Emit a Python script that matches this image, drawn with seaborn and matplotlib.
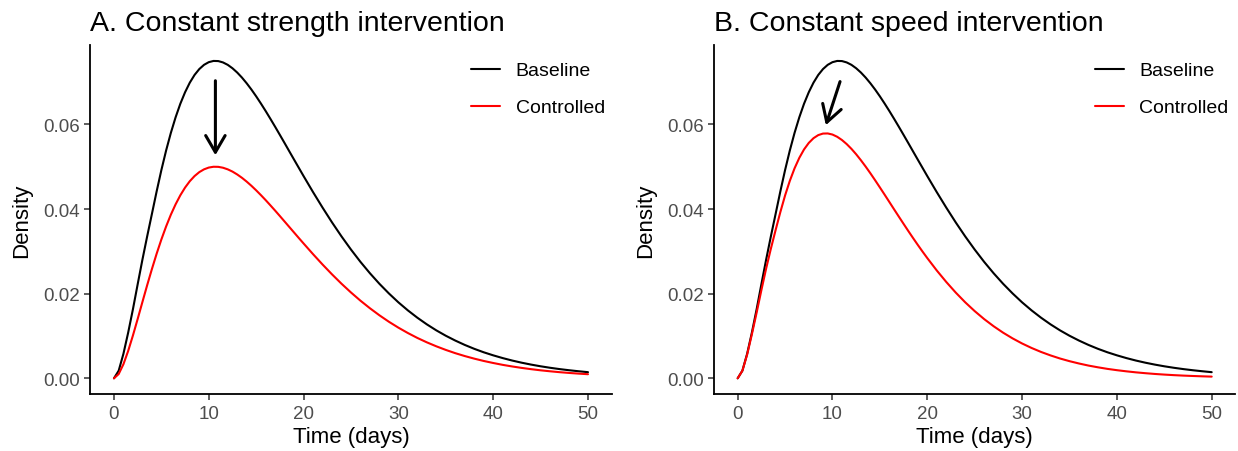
import matplotlib
matplotlib.use("Agg")
import matplotlib.pyplot as plt
import pandas as pd
import seaborn as sns

# values (half-day steps to day 20, then daily)
time_days = [
    0, 0.5, 1, 1.5, 2, 2.5, 3, 3.5, 4, 4.5, 5, 5.5, 6, 6.5, 7, 7.5, 8, 8.5,
    9, 9.5, 10, 10.5, 11, 11.5, 12, 12.5, 13, 13.5, 14, 14.5, 15, 15.5, 16,
    16.5, 17, 17.5, 18, 18.5, 19, 19.5, 20,
    21, 22, 23, 24, 25, 26, 27, 28, 29, 30, 31, 32, 33, 34, 35, 36, 37, 38,
    39, 40, 41, 42, 43, 44, 45, 46, 47, 48, 49, 50,
]

baseline = [
    0.0, 0.0018, 0.0058, 0.0108, 0.0163, 0.0222, 0.0280, 0.0335, 0.0388,
    0.04413, 0.04918, 0.05381, 0.05797, 0.06165, 0.06486, 0.06758, 0.06985,
    0.07167, 0.07306, 0.07406, 0.07469, 0.07498, 0.07495, 0.07463, 0.07406,
    0.07325, 0.07224, 0.07105, 0.06970, 0.06822, 0.06662, 0.06492, 0.06315,
    0.06131, 0.05943, 0.05751, 0.05557, 0.05361, 0.05166, 0.04972, 0.04778,
    0.04399, 0.04034, 0.03684, 0.03353, 0.03042, 0.02751, 0.02482, 0.02233,
    0.02005, 0.01795, 0.01605, 0.01432, 0.01275, 0.01133, 0.01006, 0.00892,
    0.00789, 0.00697, 0.00615, 0.00543, 0.00478, 0.00420, 0.00369, 0.00324,
    0.00284, 0.00249, 0.00218, 0.00191, 0.00167, 0.00145,
]

controlled_strength = [
    0.0, 0.00101, 0.00333, 0.00647, 0.01011, 0.01401, 0.01801, 0.02197,
    0.02579, 0.02942, 0.03279, 0.03587, 0.03865, 0.04110, 0.04324, 0.04506,
    0.04657, 0.04778, 0.04871, 0.04937, 0.04979, 0.04998, 0.04996, 0.04975,
    0.04937, 0.04884, 0.04816, 0.04737, 0.04647, 0.04548, 0.04441, 0.04328,
    0.04210, 0.04087, 0.03962, 0.03834, 0.03704, 0.03574, 0.03444, 0.03314,
    0.03186,
    0.02933, 0.02689, 0.02456, 0.02235, 0.02028, 0.01834, 0.01655, 0.01489,
    0.01336, 0.01197, 0.01070, 0.00954, 0.00850, 0.00756, 0.00671, 0.00594,
    0.00526, 0.00465, 0.00410, 0.00362, 0.00318, 0.00280, 0.00246, 0.00216,
    0.00189, 0.00166, 0.00145, 0.00127, 0.00111, 0.00097,
]

controlled_speed = [
    0.0, 0.0018, 0.0056, 0.0104, 0.0155, 0.0208, 0.0259, 0.0306, 0.0350,
    0.03925, 0.04319, 0.04664, 0.04960, 0.05207, 0.05407, 0.05561, 0.05673,
    0.05746, 0.05782, 0.05785, 0.05759, 0.05706, 0.05630, 0.05534, 0.05421,
    0.05293, 0.05152, 0.05002, 0.04844, 0.04679, 0.04510, 0.04339, 0.04166,
    0.03992, 0.03820, 0.03649, 0.03480, 0.03314, 0.03152, 0.02994, 0.02841,
    0.02548, 0.02277, 0.02026, 0.01796, 0.01588, 0.01399, 0.01230, 0.01078,
    0.00943, 0.00823, 0.00717, 0.00623, 0.00541, 0.00468, 0.00405, 0.00350,
    0.00301, 0.00260, 0.00223, 0.00192, 0.00165, 0.00141, 0.00121, 0.00103,
    0.00088, 0.00075, 0.00064, 0.00055, 0.00047, 0.00040,
]

panel_titles = ["A. Constant strength intervention", "B. Constant speed intervention"]
series_names = ["Baseline", "Controlled"]
# arrow start/end (time, density)
arrows = [((10.7, 0.0703), (10.7, 0.0527)), ((10.8, 0.0701), (9.3, 0.0598))]

sns.set_theme(style="ticks")
plt.rcParams["font.family"] = ["Liberation Sans", "DejaVu Sans"]
plt.rcParams["text.color"] = "black"
plt.rcParams["axes.labelcolor"] = "black"

fig = plt.figure(figsize=(12.38, 4.52), dpi=100)
axes = [
    fig.add_axes([0.0729, 0.1257, 0.4212, 0.7721]),
    fig.add_axes([0.5767, 0.1257, 0.4212, 0.7721]),
]

palette = {"Baseline": "black", "Controlled": "red"}

for ax, title, controlled, arr in zip(
    axes, panel_titles, [controlled_strength, controlled_speed], arrows
):
    df = pd.concat([
        pd.DataFrame({"time": time_days, "density": baseline, "curve": "Baseline"}),
        pd.DataFrame({"time": time_days, "density": controlled, "curve": "Controlled"}),
    ])

    sns.lineplot(
        data=df, x="time", y="density", hue="curve",
        hue_order=series_names, palette=palette,
        linewidth=1.5, ax=ax
    )

    ax.annotate(
        "", xy=arr[1], xytext=arr[0],
        arrowprops=dict(
            arrowstyle="->,head_length=0.6,head_width=0.35",
            color="black", lw=2.2, shrinkA=0, shrinkB=0, mutation_scale=20
        ),
    )

    ax.set_xlim(-2.5, 52.5)
    ax.set_ylim(-0.00375, 0.0787)
    ax.set_xticks([0, 10, 20, 30, 40, 50])
    ax.set_yticks([0.00, 0.02, 0.04, 0.06])
    ax.set_yticklabels(["0.00", "0.02", "0.04", "0.06"])

    ax.set_title(title, loc="left", fontsize=20.5, pad=11, color="black")
    ax.set_xlabel("Time (days)", fontsize=16, labelpad=3)
    ax.set_ylabel("Density", fontsize=16, labelpad=8)

    ax.tick_params(labelsize=13.5, labelcolor="#4D4D4D", color="#333333",
                   length=4, width=1.1)
    sns.despine(ax=ax)
    for side in ["left", "bottom"]:
        ax.spines[side].set_linewidth(1.3)
        ax.spines[side].set_color("black")

    handles, labels = ax.get_legend_handles_labels()
    ax.legend(
        handles, labels, loc="upper right", bbox_to_anchor=(1.0096, 0.986),
        frameon=False, fontsize=14, handlelength=1.5, handletextpad=0.8,
        labelspacing=1.0, borderaxespad=0.2
    )

plt.savefig("out.png", dpi=100)
plt.close()
